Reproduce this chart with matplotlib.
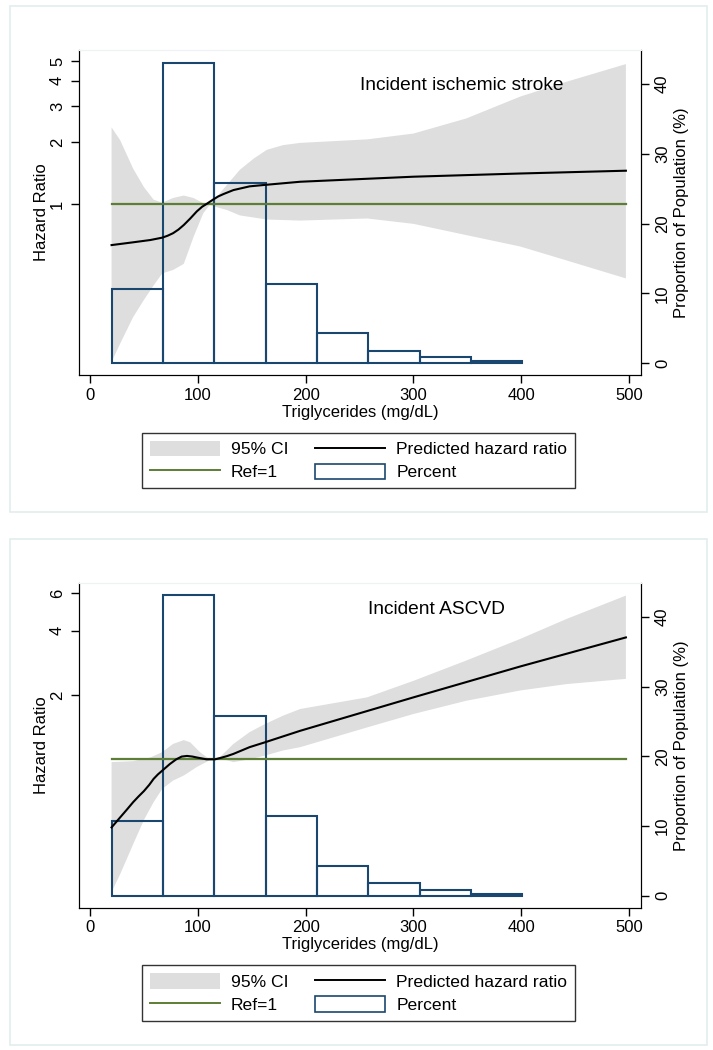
import matplotlib
matplotlib.use("Agg")
import matplotlib.pyplot as plt
from matplotlib.patches import Patch, Rectangle
from matplotlib.lines import Line2D
import numpy as np

plt.rcParams['font.family'] = ['Liberation Sans', 'DejaVu Sans']

# ---------------- data ----------------
bin_edges = [20, 67.6, 115.2, 162.8, 210.4, 258, 305.6, 353.2, 400.8]
percent = [10.66, 43.1, 25.8, 11.4, 4.3, 1.76, 0.85, 0.25]

# Panel 1: Incident ischemic stroke
s_hr_x = [20, 40, 56, 67, 72, 77, 82, 87, 93, 99, 104, 108, 114, 119, 124, 133, 148, 162, 195, 300, 399, 497]
s_hr = [0.63, 0.65, 0.667, 0.685, 0.70, 0.72, 0.75, 0.79, 0.85, 0.92, 0.97, 1.0, 1.05, 1.09, 1.12, 1.17, 1.22, 1.24, 1.285, 1.36, 1.41, 1.455]
s_up_x = [20, 28, 40, 50, 59, 67, 77, 87, 96, 105, 111, 116, 127, 139, 152, 164, 179, 195, 257, 300, 349, 399, 442, 497]
s_up = [2.37, 2.05, 1.49, 1.21, 1.05, 1.015, 1.07, 1.10, 1.07, 1.01, 1.01, 1.06, 1.24, 1.47, 1.67, 1.84, 1.94, 1.99, 2.07, 2.21, 2.62, 3.35, 3.96, 4.83]
s_lo_x = [20, 28, 40, 50, 59, 67, 77, 87, 96, 105, 111, 116, 127, 139, 164, 195, 257, 300, 349, 399, 442, 497]
s_lo = [0.169, 0.208, 0.28, 0.34, 0.40, 0.458, 0.476, 0.51, 0.69, 0.90, 0.99, 0.97, 0.935, 0.88, 0.84, 0.83, 0.85, 0.80, 0.705, 0.62, 0.53, 0.433]

# Panel 2: Incident ASCVD
a_hr_x = [20, 28, 34, 40, 45, 50, 55, 59, 63, 67, 74, 80, 85, 90, 95, 99, 108, 116, 121, 127, 133, 148, 162, 179, 195, 300, 399, 497]
a_hr = [0.48, 0.535, 0.58, 0.63, 0.67, 0.71, 0.76, 0.81, 0.85, 0.885, 0.95, 1.0, 1.03, 1.037, 1.03, 1.02, 1.0, 1.0, 1.015, 1.035, 1.06, 1.14, 1.20, 1.28, 1.36, 1.95, 2.72, 3.72]
a_up_x = [20, 40, 56, 67, 77, 87, 93, 102, 111, 116, 121, 133, 148, 162, 179, 195, 257, 300, 349, 399, 442, 497]
a_up = [0.97, 0.98, 1.02, 1.08, 1.18, 1.23, 1.20, 1.08, 1.0, 1.0, 1.03, 1.18, 1.34, 1.46, 1.60, 1.72, 1.95, 2.33, 2.90, 3.66, 4.54, 5.84]
a_lo_x = [20, 28, 40, 50, 59, 67, 77, 87, 99, 111, 116, 127, 133, 148, 162, 179, 195, 257, 300, 349, 399, 442, 497]
a_lo = [0.239, 0.29, 0.40, 0.52, 0.63, 0.727, 0.795, 0.84, 0.92, 0.99, 1.0, 0.99, 0.97, 1.0, 1.04, 1.10, 1.14, 1.41, 1.63, 1.88, 2.10, 2.25, 2.38]

ref_x = [20, 497]
x_ticks = [0, 100, 200, 300, 400, 500]
pct_ticks = [0, 10, 20, 30, 40]
panels = [
    dict(title="Incident ischemic stroke", hr_x=s_hr_x, hr=s_hr, up_x=s_up_x, up=s_up,
         lo_x=s_lo_x, lo=s_lo, yticks=[1, 2, 3, 4, 5], ylim=(0.146, 5.66),
         title_pos=(0.681, 0.892)),
    dict(title="Incident ASCVD", hr_x=a_hr_x, hr=a_hr, up_x=a_up_x, up=a_up,
         lo_x=a_lo_x, lo=a_lo, yticks=[2, 4, 6], ylim=(0.202, 6.71),
         title_pos=(0.636, 0.916)),
]

# ---------------- style ----------------
CI_COL = '#dedede'
NAVY = '#1a476f'
GREEN = '#5d7e36'
FRAME = '#e3edef'
FS = 12.0
FS_LEG = 12.6

W, H = 713, 1050
fig = plt.figure(figsize=(W / 100, H / 100), dpi=100)
fig.patch.set_facecolor('white')

panel_offset = 532.7
for i, p in enumerate(panels):
    off = i * panel_offset
    # outer light frame
    fig.patches.append(Rectangle((9.7 / W, 1 - (512 + off) / H), (706.5 - 9.7) / W, (512 - 6) / H,
                                 transform=fig.transFigure, facecolor='none',
                                 edgecolor=FRAME, lw=1.2, zorder=-5))
    top_px, bot_px = 50 + off, 375 + off
    rect = [79 / W, 1 - bot_px / H, (641 - 79) / W, (bot_px - top_px) / H]

    ax = fig.add_axes(rect)
    ax.set_yscale('log')
    ax.set_xlim(-10.2, 511)
    ax.set_ylim(*p['ylim'])
    # CI band polygon
    poly_x = list(p['up_x']) + list(p['lo_x'])[::-1]
    poly_y = list(p['up']) + list(p['lo'])[::-1]
    ax.fill(poly_x, poly_y, color=CI_COL, lw=0, zorder=1)

    # percent axis
    axp = ax.twinx()
    axp.set_ylim(-1.72, 44.9)
    widths = np.diff(bin_edges)
    axp.bar(bin_edges[:-1], percent, width=widths, align='edge', facecolor='none',
            edgecolor=NAVY, linewidth=1.5, zorder=2)

    # lines axis (same log scale as ax)
    axl = ax.twinx()
    axl.set_yscale('log')
    axl.set_ylim(*p['ylim'])
    axl.plot(ref_x, [1, 1], color=GREEN, lw=1.6, zorder=3)
    axl.plot(p['hr_x'], p['hr'], color='black', lw=1.5, zorder=4)
    axl.set_yticks([])
    axl.yaxis.set_minor_locator(matplotlib.ticker.NullLocator())
    for s in axl.spines.values():
        s.set_visible(False)

    # left axis
    ax.set_yticks(p['yticks'])
    ax.set_yticklabels([str(t) for t in p['yticks']])
    ax.yaxis.set_minor_locator(matplotlib.ticker.NullLocator())
    ax.set_xticks(x_ticks)
    ax.tick_params(axis='both', labelsize=FS, length=6, width=1, direction='out', pad=3)
    ax.tick_params(axis='y', labelrotation=90, pad=4)
    for lab in ax.get_yticklabels():
        lab.set_va('center')
    ax.set_ylabel('Hazard Ratio', fontsize=FS, labelpad=1)
    ax.set_xlabel('Triglycerides (mg/dL)', fontsize=FS, labelpad=1.5)

    axp.set_yticks(pct_ticks)
    axp.tick_params(axis='y', labelsize=FS, length=6, width=1, labelrotation=90, pad=4)
    for lab in axp.get_yticklabels():
        lab.set_va('center')
    axp.set_ylabel('Proportion of Population (%)', fontsize=FS, labelpad=3)

    for a in (ax, axp):
        a.spines['top'].set_color('#edf3f5')
        a.spines['left'].set_color('black')
        a.spines['bottom'].set_color('black')
        a.spines['right'].set_color('black')
        a.patch.set_visible(False)

    ax.text(p['title_pos'][0], p['title_pos'][1], p['title'], transform=ax.transAxes,
            ha='center', va='center', fontsize=13.8, zorder=5)

    handles = [Patch(facecolor=CI_COL, edgecolor='none'),
               Line2D([], [], color=GREEN, lw=1.4),
               Line2D([], [], color='black', lw=1.4),
               Patch(facecolor='white', edgecolor=NAVY, lw=1.2)]
    labels = ['95% CI', 'Ref=1', 'Predicted hazard ratio', 'Percent']
    leg_cy = 1 - (460.5 + off) / H
    leg = fig.legend(handles, labels, ncol=2, loc='center', bbox_to_anchor=(0.5028, leg_cy),
                     bbox_transform=fig.transFigure, fontsize=FS_LEG, frameon=True, fancybox=False,
                     edgecolor='black', handlelength=4.0, handleheight=1.0, handletextpad=0.65,
                     columnspacing=1.5, labelspacing=0.35, borderpad=0.45)
    leg.get_frame().set_linewidth(1.0)

fig.savefig('out.png', dpi=100, facecolor='white')
